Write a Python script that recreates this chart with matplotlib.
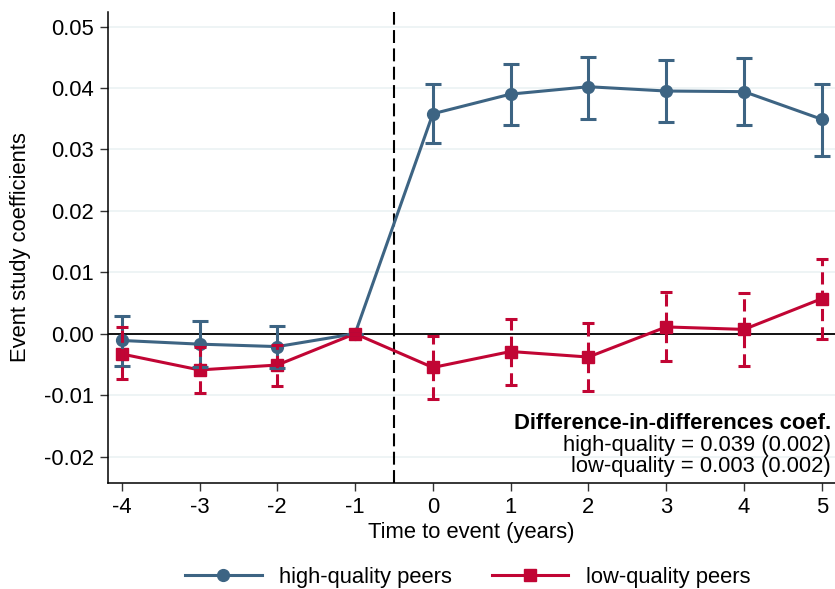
import matplotlib
matplotlib.use("Agg")
import matplotlib.pyplot as plt
import numpy as np
from matplotlib.lines import Line2D

plt.rcParams['font.family'] = ['Liberation Sans', 'DejaVu Sans']

# event time
years = [-4, -3, -2, -1, 0, 1, 2, 3, 4, 5]

# high-quality peers: coefficient and 95% CI
high_coef = [-0.0011, -0.0017, -0.0021, 0.0, 0.0358, 0.0390, 0.0402, 0.0395, 0.0394, 0.0349]
high_lo = [-0.0052, -0.0055, -0.0056, 0.0, 0.0311, 0.0340, 0.0350, 0.0344, 0.0339, 0.0290]
high_hi = [0.0029, 0.0021, 0.0013, 0.0, 0.0407, 0.0439, 0.0451, 0.0446, 0.0448, 0.0407]

# low-quality peers
low_coef = [-0.0033, -0.0059, -0.0051, 0.0, -0.0055, -0.0029, -0.0038, 0.0011, 0.0007, 0.0057]
low_lo = [-0.0074, -0.0097, -0.0085, 0.0, -0.0107, -0.0083, -0.0093, -0.0045, -0.0052, -0.0008]
low_hi = [0.0011, -0.0021, -0.0018, 0.0, -0.0003, 0.0024, 0.0017, 0.0068, 0.0067, 0.0122]

yticks = [-0.02, -0.01, 0.0, 0.01, 0.02, 0.03, 0.04, 0.05]
ytick_labels = ["-0.02", "-0.01", "0.00", "0.01", "0.02", "0.03", "0.04", "0.05"]

dd_title = "Difference-in-differences coef."
dd_lines = ["high-quality = 0.039 (0.002)", "low-quality = 0.003 (0.002)"]

blue = "#3d6483"
red = "#c10534"
grid_col = "#eaf1f3"
fs = 15.8

fig = plt.figure(figsize=(8.35, 5.89), dpi=100)
ax = fig.add_axes([0.129, 0.18, 0.871, 0.80])

x = np.array(years)
hc, hl, hh = map(np.array, (high_coef, high_lo, high_hi))
lc, ll, lh = map(np.array, (low_coef, low_lo, low_hi))

for yv in yticks:
    ax.axhline(yv, color=grid_col, lw=1.1, zorder=0)
ax.axhline(0, color="black", lw=1.3, zorder=1)
# event marker between -1 and 0
ax.axvline(-0.5, color="black", lw=1.5, ls=(0, (6.2, 2.6)), zorder=1)

ax.plot(x, hc, color=blue, lw=2.2, marker="o", ms=8.5, zorder=3)
ax.plot(x, lc, color=red, lw=2.2, marker="s", ms=9, zorder=4)

# confidence intervals
eb = ax.errorbar(x, hc, yerr=[hc - hl, hh - hc], fmt="none", ecolor=blue,
                 elinewidth=2.2, capsize=5.5, capthick=2.2, zorder=5)
eb2 = ax.errorbar(x, lc, yerr=[lc - ll, lh - lc], fmt="none", ecolor=red,
                  elinewidth=2.2, capsize=4.5, capthick=2.2, zorder=6)
eb2[2][0].set_linestyle((0, (4, 2)))

ax.set_xlim(-4.18, 5.17)
ax.set_ylim(-0.0243, 0.0524)
ax.set_xticks(years)
ax.set_xticklabels([str(v) for v in years])
ax.set_yticks(yticks)
ax.set_yticklabels(ytick_labels)
ax.tick_params(axis="both", labelsize=fs, length=6, width=1, color="#333333")
ax.tick_params(axis="y", pad=4)
ax.tick_params(axis="x", pad=4)

for s in ["top", "right"]:
    ax.spines[s].set_visible(False)
for s in ["left", "bottom"]:
    ax.spines[s].set_linewidth(1.1)

ax.set_xlabel("Time to event (years)", fontsize=fs, labelpad=3)
ax.set_ylabel("Event study coefficients", fontsize=fs, labelpad=9)

ax.text(0.994, 0.127, dd_title, transform=ax.transAxes, ha="right",
        va="center", fontsize=fs, fontweight="bold")
for i, t in enumerate(dd_lines):
    ax.text(0.994, 0.080 - 0.046 * i, t, transform=ax.transAxes, ha="right",
            va="center", fontsize=fs)

handles = [
    Line2D([0], [0], color=blue, lw=2.2, marker="o", ms=8.5),
    Line2D([0], [0], color=red, lw=2.2, marker="s", ms=9),
]
fig.legend(handles, ["high-quality peers", "low-quality peers"], loc="center",
           bbox_to_anchor=(0.56, 0.02), ncol=2, frameon=False, fontsize=fs,
           handlelength=3.5, columnspacing=1.8, handletextpad=0.8)

fig.savefig("out.png", dpi=100)
